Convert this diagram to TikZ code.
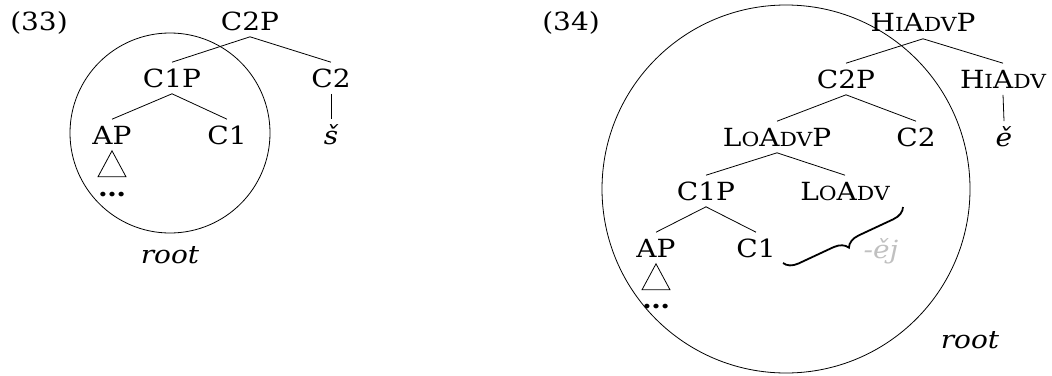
\documentclass[tikz,border=0pt]{standalone}
\usepackage{fontspec}
\setmainfont{DejaVu Serif}[FakeStretch = 1.12]
\usetikzlibrary{decorations.pathreplacing}
\definecolor{suffixgray}{RGB}{192,192,192}
\newcommand{\smc}[1]{{\fontsize{9.7}{11}\selectfont #1}}

\begin{document}
\begin{tikzpicture}[x = 0.5pt, y = -0.5pt,
                lbl/.style = {anchor = base, inner sep = 0pt, font = \fontsize{12.5}{15}\selectfont},
                cat/.style = {lbl, text height = 9pt, text depth = 0pt, inner ysep = 3.2pt},
                form/.style = {cat, font = \fontsize{12.5}{15}\selectfont\itshape},
                bracket/.style = {decorate, decoration = {brace, amplitude = 7pt}, line width = 0.9pt}]
                \useasboundingbox (0,0) rectangle (1052,375);
                \node[lbl] (ex33) at (39,30) {(33)};
                \node[cat] (c2p) at (250,30) {C2P};
                \node[cat] (c1p) at (172,87) {C1P};
                \node[cat] (c2) at (331,87) {C2};
                \node[cat] (ap) at (112,144) {AP};
                \node[cat] (c1) at (227,144) {C1};
                \node[form] (shv) at (331,144) {š};
                \node[lbl] (apdots) at (112,196) {\textbf{\dots}};
                \node[form] (root33) at (170,263) {root};
                \draw (c2p.south) -- (c1p.north);
                \draw (c2p.south) -- (c2.north);
                \draw (c1p.south) -- (ap.north);
                \draw (c1p.south) -- (c1.north);
                \draw (c2.south) -- (shv.north);
                \draw (ap.south) -- ++(-14,26) -- ++(28,0) -- cycle;
                \draw (170,133) circle [radius = 100];
                \node[lbl] (ex34) at (571,30) {(34)};
                \node[cat] (hiadvp) at (923,32) {H\smc{I}A\smc{DV}P};
                \node[cat] (c2pb) at (846,88) {C2P};
                \node[cat] (hiadv) at (1003,88) {H\smc{I}A\smc{DV}};
                \node[form] (ecar) at (1004,146) {ě};
                \node[cat] (loadvp) at (777,146) {L\smc{O}A\smc{DV}P};
                \node[cat] (c2b) at (916,146) {C2};
                \node[cat] (c1pb) at (706,200) {C1P};
                \node[cat] (loadv) at (845,200) {L\smc{O}A\smc{DV}};
                \node[cat] (apb) at (656,257) {AP};
                \node[cat] (c1b) at (756,257) {C1};
                \node[lbl] (apbdots) at (656,308) {\textbf{\dots}};
                \node[form, text = suffixgray] (suffix) at (881,258) {-ěj};
                \node[form] (root34) at (970,348) {root};
                \coordinate (bracetop) at (903,207);
                \coordinate (bracebot) at (783,263);
                \draw (hiadvp.south) -- (c2pb.north);
                \draw (hiadvp.south) -- (hiadv.north);
                \draw (hiadv.south) -- (ecar.north);
                \draw (c2pb.south) -- (loadvp.north);
                \draw (c2pb.south) -- (c2b.north);
                \draw (loadvp.south) -- (c1pb.north);
                \draw (loadvp.south) -- (loadv.north);
                \draw (c1pb.south) -- (apb.north);
                \draw (c1pb.south) -- (c1b.north);
                \draw (apb.south) -- ++(-14,26) -- ++(28,0) -- cycle;
                \draw[bracket] (bracetop) -- (bracebot);
                \draw (786,189) circle [radius = 184];
            \end{tikzpicture}
\end{document}
